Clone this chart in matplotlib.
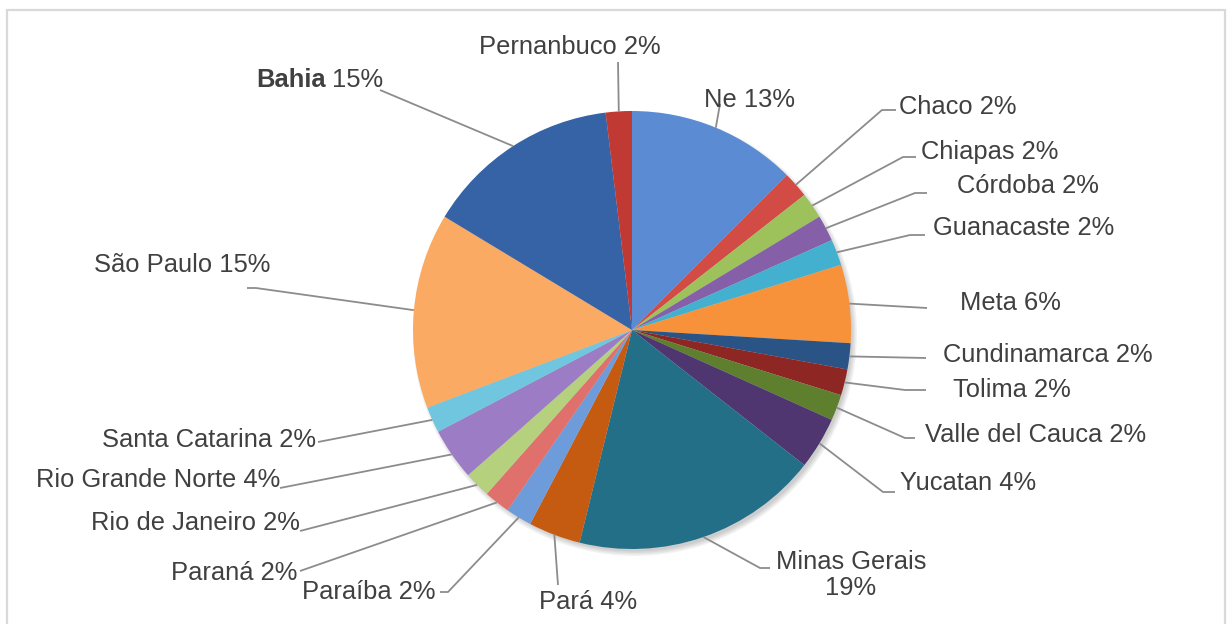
import numpy as np
import matplotlib
matplotlib.use("Agg")
import matplotlib.pyplot as plt
from matplotlib.patches import Circle, Rectangle

plt.rcParams['font.family'] = ['Liberation Sans', 'DejaVu Sans']

# ---- data -------------------------------------------------------------
regions = ["Ne", "Chaco", "Chiapas", "Córdoba", "Guanacaste", "Meta",
           "Cundinamarca", "Tolima", "Valle del Cauca", "Yucatan",
           "Minas Gerais", "Pará", "Paraíba", "Paraná", "Rio de Janeiro",
           "Rio Grande Norte", "Santa Catarina", "São Paulo", "Bahia",
           "Pernanbuco"]
shares = [13, 2, 2, 2, 2, 6, 2, 2, 2, 4, 19, 4, 2, 2, 2, 4, 2, 15, 15, 2]

colors = ["#5B8CD3", "#D24B45", "#9DC25B", "#8560A8", "#43B0D0", "#F7923A",
          "#2B5486", "#8E2623", "#5E7F2E", "#4F3670", "#236F87", "#C55A11",
          "#6E9CDA", "#E0706C", "#B5D17E", "#9C7CC4", "#6FC6DE", "#FBAA63",
          "#3563A6", "#C03A33"]

# ---- label layout (pixel coordinates, origin top-left) -------------------
# leader path after the wedge edge, text anchor, horizontal alignment
label_layout = {
    "Ne":               ([(720, 104)],              (704, 100), "left"),
    "Chaco":            ([(882, 110), (896, 110)],  (899, 107), "left"),
    "Chiapas":          ([(903, 157), (916, 157)],  (921, 152), "left"),
    "Córdoba":          ([(915, 193), (927, 193)],  (957, 186), "left"),
    "Guanacaste":       ([(910, 235), (925, 235)],  (933, 228), "left"),
    "Meta":             ([(927, 308)],              (960, 303), "left"),
    "Cundinamarca":     ([(926, 358)],              (943, 355), "left"),
    "Tolima":           ([(905, 390), (926, 390)],  (953, 390), "left"),
    "Valle del Cauca":  ([(905, 438), (915, 438)],  (925, 435), "left"),
    "Yucatan":          ([(883, 492), (895, 492)],  (900, 483), "left"),
    "Minas Gerais":     ([(760, 568), (770, 568)],  (851, 575), "center"),
    "Pará":             ([(558, 585)],              (588, 602), "center"),
    "Paraíba":          ([(448, 592), (440, 592)],  (435, 592), "right"),
    "Paraná":           ([(300, 571)],              (297, 573), "right"),
    "Rio de Janeiro":   ([(300, 531)],              (300, 523), "right"),
    "Rio Grande Norte": ([(280, 488)],              (280, 480), "right"),
    "Santa Catarina":   ([(318, 442)],              (316, 440), "right"),
    "São Paulo":        ([(256, 288), (247, 288)],  (270, 265), "right"),
    "Bahia":            ([(380, 90)],               (383, 80),  "right"),
    "Pernanbuco":       ([(618, 62)],               (570, 47),  "center"),
}

W, H = 1227, 624
CX, CY, R = 632, 330, 219
TEXT_COLOR = "#404040"
LINE_COLOR = "#8C8C8C"
FS = 18.4


def Y(y):
    return H - y


fig = plt.figure(figsize=(W / 100, H / 100), dpi=100)
ax = fig.add_axes([0, 0, 1, 1])

# chart frame
ax.add_patch(Rectangle((7, Y(640)), 1218, 630, fill=False,
                       edgecolor="#D9D9D9", linewidth=1.6, zorder=0))

# soft drop shadow under the pie
for k in range(4):
    ax.add_patch(Circle((CX + 3, Y(CY) - 4), R + 3 - k * 1.5,
                        facecolor="#000000", alpha=0.05, edgecolor="none",
                        zorder=1))

wedges, _ = ax.pie(shares, colors=colors, startangle=90, counterclock=False,
                   center=(CX, Y(CY)), radius=R, frame=True,
                   wedgeprops=dict(edgecolor="none", linewidth=0, zorder=2))
ax.set_xlim(0, W)
ax.set_ylim(0, H)
ax.set_aspect("equal")
ax.axis("off")

for name, val, w in zip(regions, shares, wedges):
    mid = np.deg2rad((w.theta1 + w.theta2) / 2)
    ex = CX + R * np.cos(mid)
    ey = Y(CY) + R * np.sin(mid)
    path, (tx, ty), ha = label_layout[name]
    xs = [ex] + [p[0] for p in path]
    ys = [ey] + [Y(p[1]) for p in path]
    ax.plot(xs, ys, color=LINE_COLOR, lw=1.3, zorder=3,
            solid_capstyle="butt")

    pct = f"{val}%"
    if name == "Bahia":
        t = ax.text(tx, Y(ty), pct, ha="right", va="center", fontsize=FS,
                    color=TEXT_COLOR, zorder=4)
        ax.annotate(name, xy=(0, 0.5), xycoords=t, xytext=(-4, 0),
                    textcoords="offset points", ha="right", va="center",
                    fontsize=FS, fontweight="bold", color=TEXT_COLOR)
    elif name == "Minas Gerais":
        ax.text(tx, Y(ty), f"{name}\n{pct}", ha="center", va="center",
                multialignment="center", fontsize=FS, color=TEXT_COLOR,
                linespacing=1.1, zorder=4)
    else:
        ax.text(tx, Y(ty), f"{name} {pct}", ha=ha, va="center", fontsize=FS,
                color=TEXT_COLOR, zorder=4)

fig.savefig("out.png", dpi=100, facecolor="white")
